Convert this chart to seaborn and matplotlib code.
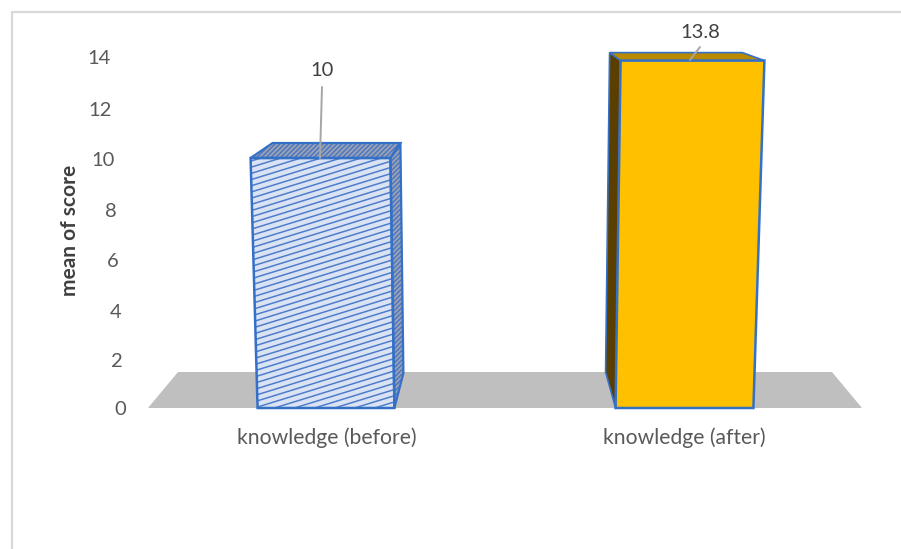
import numpy as np
import pandas as pd
import seaborn as sns
import matplotlib.pyplot as plt
from matplotlib.collections import LineCollection
from matplotlib.lines import Line2D
from matplotlib.patches import Polygon
from matplotlib.transforms import IdentityTransform, ScaledTranslation

categories = ['knowledge (before)', 'knowledge (after)']
scores = [10, 13.8]
score_labels = ['10', '13.8']
y_ticks = [0, 2, 4, 6, 8, 10, 12, 14]

W, H = 901, 549
TEXT = '#595959'
EDGE = '#3470c6'

sns.set_style('white')
plt.rcParams['font.family'] = ['Lato', 'DejaVu Sans']
plt.rcParams['hatch.linewidth'] = 0.9

fig = plt.figure(figsize=(W / 100, H / 100), dpi=100)
# axes placed so that 0 sits on the floor front edge and 14 near the top label
ax = fig.add_axes([147.5 / W, 1 - 408 / H, 716 / W, 351.4 / H])

df = pd.DataFrame({'category': categories, 'score': scores})
sns.barplot(data=df, x='category', y='score', width=0.385, color='white', ax=ax)
bars = list(ax.patches)
ax.set_xlim(-0.5, 1.5)
ax.set_ylim(0, 14)
ax.set_yticks(y_ticks)
ax.set_xlabel('')
ax.set_ylabel('mean of score', fontsize=15, fontweight='bold', color='#404040', labelpad=0)
ax.yaxis.set_label_coords(-67 / 716, 0.505)
sns.despine(ax=ax, left=True, bottom=True)
ax.tick_params(axis='both', length=0, labelsize=14.5, labelcolor=TEXT)
ax.tick_params(axis='x', pad=14, labelsize=15.2)
ax.patch.set_alpha(0)

# the tick labels follow the slanted 3d wall, so each gets its own nudge (px)
nudge_x = [-17, -20, -21, -24, -26, -28, -31, -32]
nudge_y = [0, -2, -3, -3, -3, -2, -2, 0]
for tick, dx, dy in zip(ax.yaxis.get_major_ticks(), nudge_x, nudge_y):
    shift = ScaledTranslation(dx / 100, dy / 100, fig.dpi_scale_trans)
    tick.label1.set_transform(tick.label1.get_transform() + shift)


def add_poly(points, **kw):
    # points are (px from left, px from top)
    pts = [(x, H - y) for x, y in points]
    p = Polygon(pts, closed=True, transform=IdentityTransform(), clip_on=False, **kw)
    ax.add_artist(p)
    return p


# grey floor
add_poly([(148, 408), (862, 408), (832, 372), (178, 372)], facecolor='#bfbfbf', edgecolor='none', zorder=1)

fig.canvas.draw()
corners = []
for bar in bars:
    bar.set_alpha(0)
    x0, y0 = ax.transData.transform((bar.get_x(), 0))
    x1, y1 = ax.transData.transform((bar.get_x() + bar.get_width(), bar.get_height()))
    corners.append((x0, x1, H - y0, H - y1))

# first bar: hatched blue
x0, x1, y0, y1 = corners[0]
top = y1 + 1
front = [(x0, y0), (x1 - 1, y0), (x1 - 5, top), (x0 - 7, top)]
side = [(x1 - 5, top), (x1 + 5, top - 15), (x1 + 8, 373), (x1 - 1, y0)]
lid = [(x0 - 7, top), (x0 + 15, top - 15), (x1 + 5, top - 15), (x1 - 5, top)]

for pts in (side, lid):
    add_poly(pts, facecolor='#97a0b4', edgecolor='#4472c4', hatch='///////', linewidth=0, zorder=3)
    add_poly(pts, facecolor='none', edgecolor=EDGE, linewidth=1.6, zorder=5)

front_poly = add_poly(front, facecolor='#dae3f3', edgecolor='none', zorder=3)
# shallow hatch lines, matplotlib's own hatch is only 45 degrees
segs = [[(x0 - 20, H - yy), (x1 + 20, H - yy + 55)] for yy in np.arange(y1 - 60, y0 + 70, 6.2)]
hatch = LineCollection(segs, colors='#4f7dcb', linewidths=1.1, transform=IdentityTransform(), zorder=4)
ax.add_artist(hatch)
hatch.set_clip_path(front_poly)
add_poly(front, facecolor='none', edgecolor=EDGE, linewidth=1.8, zorder=5)

# second bar: solid yellow
x0, x1, y0, y1 = corners[1]
top = y1 - 1
front = [(x0, y0), (x1, y0), (x1 + 11, top), (x0 + 5, top)]
side = [(x0 + 5, top), (x0 - 6, top - 8), (x0 - 10, 372), (x0, y0)]
lid = [(x0 + 5, top), (x0 - 6, top - 8), (x1 - 11, top - 8), (x1 + 11, top)]
add_poly(side, facecolor='#5b3f00', edgecolor=EDGE, linewidth=1.2, zorder=3)
add_poly(lid, facecolor='#b98900', edgecolor=EDGE, linewidth=1.2, zorder=3)
add_poly(front, facecolor='#ffc000', edgecolor=EDGE, linewidth=1.8, zorder=4)

# value labels with leader lines (px from left, px from top)
leaders = [((320, 158), (322, 87), (322, 71)), ((690, 60), (700, 47), (700, 33))]
for label, (start, end, pos) in zip(score_labels, leaders):
    ax.add_artist(Line2D([start[0], end[0]], [H - start[1], H - end[1]], color='#a6a6a6', linewidth=1.4,
                         transform=IdentityTransform(), clip_on=False, zorder=6))
    ax.text(pos[0], H - pos[1], label, transform=IdentityTransform(), ha='center', va='center',
            fontsize=14.5, color='#404040', zorder=7)

# chart frame, only the top and left show in the crop
fig.add_artist(Line2D([12 / W, 12 / W, 1], [0, 1 - 12 / H, 1 - 12 / H], color='#d9d9d9', linewidth=1.6))

fig.savefig('out.png', dpi=100)
